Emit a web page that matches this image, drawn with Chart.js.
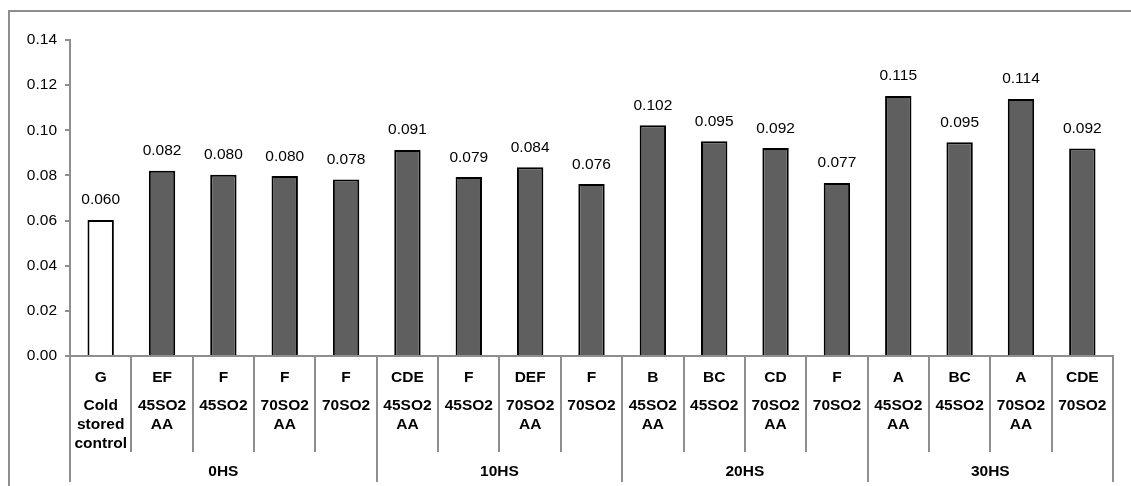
<!DOCTYPE html>
<html><head><meta charset="utf-8">
<script src="https://cdn.jsdelivr.net/npm/chart.js@4.4.1/dist/chart.umd.min.js"></script>
<style>html,body{margin:0;padding:0;background:#fff;overflow:hidden}canvas{display:block}</style>
</head><body>
<canvas id="c" width="1131" height="486"></canvas>
<script>
const letters = ['G','EF','F','F','F','CDE','F','DEF','F','B','BC','CD','F','A','BC','A','CDE'];
const treatments = [
  ['Cold','stored','control'],
  ['45SO2','AA'],['45SO2'],['70SO2','AA'],['70SO2'],
  ['45SO2','AA'],['45SO2'],['70SO2','AA'],['70SO2'],
  ['45SO2','AA'],['45SO2'],['70SO2','AA'],['70SO2'],
  ['45SO2','AA'],['45SO2'],['70SO2','AA'],['70SO2']
];
const groups = ['0HS','10HS','20HS','30HS'];
const groupSizes = [5,4,4,4];
const values = [0.0603,0.0821,0.0803,0.0797,0.0782,0.0913,0.0793,0.0836,0.0762,0.1022,0.0951,0.0921,0.0767,0.1152,0.0947,0.1139,0.0919];
const yTickValues = [0,0.02,0.04,0.06,0.08,0.10,0.12,0.14];

const FONT = '"Liberation Sans", Arial, sans-serif';
const FS = 15.5;
const GRAY = '#8e8e8e';

const tablePlugin = {
  id: 'table',
  beforeDraw(chart) {
    const ctx = chart.ctx;
    ctx.save();
    ctx.fillStyle = '#fff';
    ctx.fillRect(0, 0, chart.width, chart.height);
    ctx.fillStyle = GRAY;
    ctx.fillRect(8, 10, chart.width, 2);
    ctx.fillRect(8, 10, 2, chart.height);
    ctx.restore();
  },
  afterDraw(chart) {
    const ctx = chart.ctx;
    const x = chart.scales.x;
    const area = chart.chartArea;
    const top = area.bottom;
    ctx.save();
    // group boundaries
    const groupEdges = [0];
    groupSizes.forEach(s => groupEdges.push(groupEdges[groupEdges.length - 1] + s));
    ctx.strokeStyle = GRAY;
    ctx.lineWidth = 2;
    for (let i = 0; i <= letters.length; i++) {
      const px = Math.round(x.getPixelForValue(i - 0.5)) + 0.0;
      const isGroup = groupEdges.includes(i);
      ctx.beginPath();
      ctx.moveTo(px, top);
      ctx.lineTo(px, isGroup ? 482 : 452);
      ctx.stroke();
    }
    ctx.fillStyle = '#000';
    ctx.textAlign = 'center';
    ctx.textBaseline = 'alphabetic';
    ctx.font = 'bold ' + FS + 'px ' + FONT;
    letters.forEach((l, i) => {
      const cx = x.getPixelForValue(i);
      ctx.fillText(l, cx, 382);
      treatments[i].forEach((t, j) => ctx.fillText(t, cx, 410 + j * 19));
    });
    groups.forEach((g, k) => {
      const a = x.getPixelForValue(groupEdges[k] - 0.5);
      const b = x.getPixelForValue(groupEdges[k + 1] - 0.5);
      ctx.fillText(g, (a + b) / 2, 476);
    });
    ctx.restore();
  },
  afterDatasetsDraw(chart) {
    const ctx = chart.ctx;
    const meta = chart.getDatasetMeta(0);
    ctx.save();
    ctx.fillStyle = '#000';
    ctx.textAlign = 'center';
    ctx.textBaseline = 'alphabetic';
    ctx.font = FS + 'px ' + FONT;
    meta.data.forEach((bar, i) => {
      ctx.fillText(values[i].toFixed(3), bar.x, bar.y - 15.5);
    });
    ctx.restore();
  }
};

new Chart(document.getElementById('c'), {
  type: 'bar',
  data: {
    labels: letters,
    datasets: [{
      data: values,
      backgroundColor: ctx => ctx.dataIndex === 0 ? '#ffffff' : '#5f5f5f',
      borderColor: '#000',
      borderWidth: 2,
      barPercentage: 0.43,
      categoryPercentage: 1
    }]
  },
  plugins: [tablePlugin],
  options: {
    responsive: false,
    animation: false,
    devicePixelRatio: 1,
    layout: { padding: { left: 0, top: 40, right: 18, bottom: 0 } },
    plugins: { legend: { display: false }, tooltip: { enabled: false } },
    scales: {
      x: {
        ticks: { display: false },
        grid: { display: false },
        border: { display: true, color: GRAY, width: 2 },
        afterFit(scale) { scale.height = 130; }
      },
      y: {
        min: 0, max: 0.14,
        afterBuildTicks(scale) { scale.ticks = yTickValues.map(v => ({ value: v })); },
        ticks: {
          font: { family: FONT, size: FS },
          color: '#000',
          padding: 8,
          callback: v => Number(v).toFixed(2)
        },
        grid: { display: true, drawOnChartArea: false, drawTicks: true, tickLength: 5, color: GRAY, lineWidth: 2 },
        border: { display: true, color: GRAY, width: 2 },
        afterFit(scale) { scale.width = 70; }
      }
    }
  }
});
</script>
</body></html>
